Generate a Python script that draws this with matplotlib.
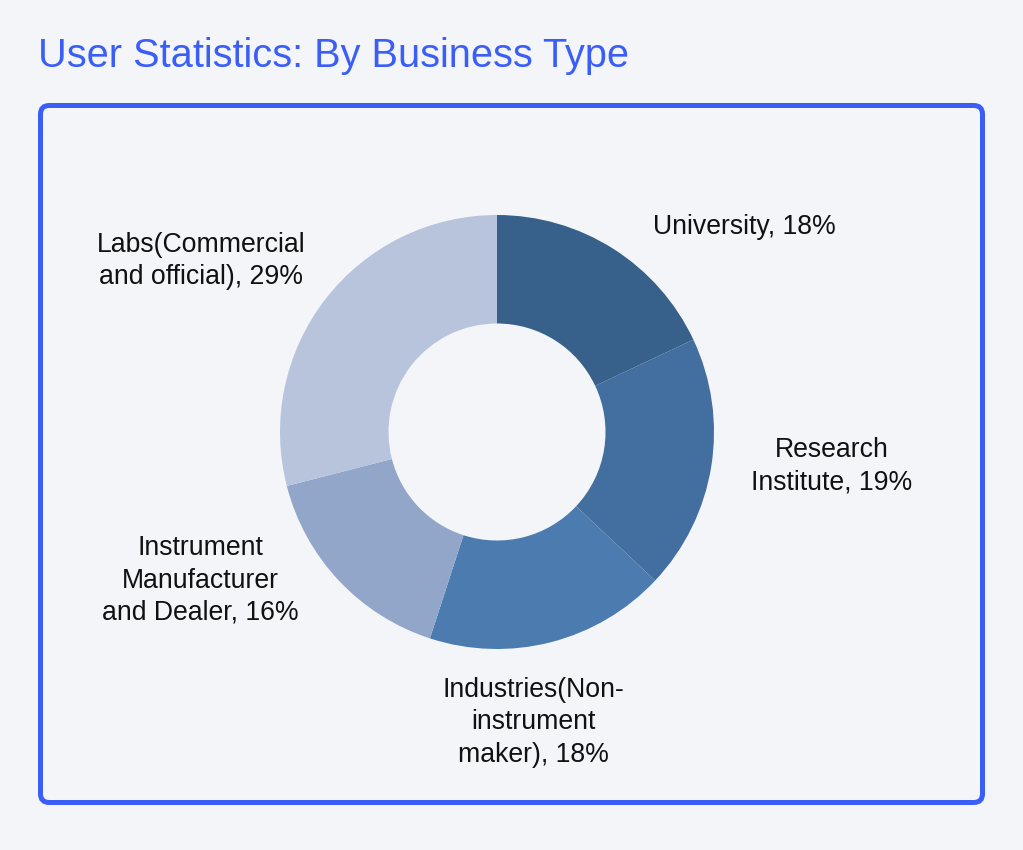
import numpy as np
import matplotlib.pyplot as plt
from matplotlib.patches import FancyBboxPatch

plt.rcParams['font.family'] = ['Liberation Sans', 'DejaVu Sans']

# data
labels = ['University', 'Research\nInstitute', 'Industries(Non-\ninstrument\nmaker)',
          'Instrument\nManufacturer\nand Dealer', 'Labs(Commercial\nand official)']
shares = [18, 19, 18, 16, 29]
colors = ['#37608a', '#436ea0', '#4b7baf', '#91a6c8', '#b8c4dc']

BG = '#f3f5f9'
ACCENT = '#3b5ff6'
PX = 217.0  # pixels per unit radius

fig = plt.figure(figsize=(10.23, 8.5), dpi=100, facecolor=BG)
ax = fig.add_axes([0, 0, 1, 1])
ax.set_facecolor(BG)

cx, cy = 497, 432  # pie centre, pixels from top-left

wedges, _ = ax.pie(shares, colors=colors, startangle=90, counterclock=False,
                   radius=1.0, wedgeprops=dict(width=0.5, linewidth=0),
                   frame=True)
ax.axis('off')
ax.set_xlim(-cx / PX, (1023 - cx) / PX)
ax.set_ylim(-(850 - cy) / PX, cy / PX)
ax.set_aspect('auto')

# outside labels
gap = 40 / PX
for w, lab, s in zip(wedges, labels, shares):
    ang = np.deg2rad((w.theta1 + w.theta2) / 2)
    x, y = np.cos(ang), np.sin(ang)
    if x > 0.5:
        ha, dx = 'left', gap
    elif x < -0.5:
        ha, dx = 'right', -gap * (0.5 if y > 0.5 else 1.0)
    else:
        ha, dx = 'center', -0.08
    if y > 0.5:
        va, dy = 'bottom', 0.04
    elif y < -0.8:
        va, dy = 'top', -0.16
    else:
        va, dy = 'center', 0
    ax.text(x + dx, y + dy, f'{lab}, {s}%', ha=ha, va=va, fontsize=19.2,
            multialignment='center', linespacing=1.32, color='#111111')

# rounded frame
x0, x1 = (40.5 - cx) / PX, (982.5 - cx) / PX
y0, y1 = (cy - 802.5) / PX, (cy - 105.5) / PX
frame = FancyBboxPatch((x0, y0), x1 - x0, y1 - y0,
                       boxstyle='round,pad=0,rounding_size=0.04',
                       fill=False, edgecolor=ACCENT, linewidth=3.6, zorder=5)
ax.add_patch(frame)

fig.text(38 / 1023, 1 - 67 / 850, 'User Statistics: By Business Type',
         fontsize=28.6, color=ACCENT, ha='left', va='baseline')

fig.savefig('out.png', dpi=100, facecolor=BG)
